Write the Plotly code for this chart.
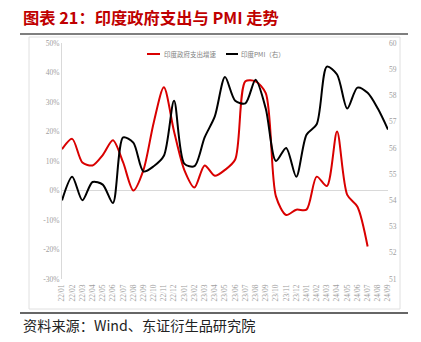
import plotly.graph_objects as go

months = ["22/01","22/02","22/03","22/04","22/05","22/06","22/07","22/08","22/09","22/10","22/11","22/12",
          "23/01","23/02","23/03","23/04","23/05","23/06","23/07","23/08","23/09","23/10","23/11","23/12",
          "24/01","24/02","24/03","24/04","24/05","24/06","24/07","24/08","24/09"]
gov_spend = [14, 17.5, 9.5, 8.5, 12, 17, 9.5, 0, 7, 23, 35, 20,
             7, 1, 8.5, 5, 7, 10.5, 37, 37, 33, -2, -8.3, -6.5,
             -6.5, 4.7, 1.5, 20, -1.5, -5.5, -19]
pmi = [54.0, 54.9, 54.0, 54.7, 54.6, 53.9, 56.4, 56.2, 55.1, 55.3, 55.7, 57.8,
       55.4, 55.3, 56.4, 57.2, 58.7, 57.8, 57.7, 58.6, 57.5, 55.5, 56.0, 54.9,
       56.5, 56.9, 59.1, 58.8, 57.5, 58.3, 58.1, 57.5, 56.7]
left_ticks = [-30, -20, -10, 0, 10, 20, 30, 40, 50]
right_ticks = [51, 52, 53, 54, 55, 56, 57, 58, 59, 60]

W, H = 421, 342
L, R, T, B = 62, 388, 43, 279
def px(x): return (x - L) / (R - L)
def py(y): return (B - y) / (B - T)

RED = "#D90000"
idx = list(range(len(months)))

fig = go.Figure()
fig.add_trace(go.Scatter(x=idx[:len(gov_spend)], y=gov_spend, mode="lines", name="印度政府支出增速",
                         line=dict(color=RED, width=2, shape="spline", smoothing=0.8), yaxis="y"))
fig.add_trace(go.Scatter(x=idx, y=pmi, mode="lines", name="印度PMI（右）",
                         line=dict(color="black", width=2, shape="spline", smoothing=0.8), yaxis="y2"))

tickfont = dict(family="Liberation Serif", size=7.5, color="#a0a0a0")
fig.update_layout(
    width=W, height=H, autosize=False,
    margin=dict(l=L, r=W - R, t=T, b=H - B),
    paper_bgcolor="white", plot_bgcolor="white",
    showlegend=False,
    xaxis=dict(range=[0, len(months) - 1], tickmode="array", tickvals=idx, ticktext=months,
               tickangle=-90, tickfont=tickfont, showgrid=False, zeroline=False, showline=False,
               ticks="", ticklabelstandoff=3),
    yaxis=dict(range=[-30, 50], tickvals=left_ticks, ticktext=[f"{v}%" for v in left_ticks],
               tickfont=tickfont, showgrid=False, zeroline=True, zerolinecolor="#d9d9d9",
               zerolinewidth=1, showline=True, linecolor="#d9d9d9", linewidth=1, ticks=""),
    yaxis2=dict(range=[51, 60], tickvals=right_ticks, overlaying="y", side="right",
                tickfont=tickfont, showgrid=False, zeroline=False, showline=False, ticks=""),
)

shapes = [
    dict(type="rect", xref="paper", yref="paper", x0=px(29), x1=px(400), y0=py(309), y1=py(37),
         line=dict(color="#e0e0e0", width=1)),
    dict(type="line", xref="paper", yref="paper", x0=px(20), x1=px(408), y0=py(34), y1=py(34),
         line=dict(color="#555555", width=1.5)),
    dict(type="line", xref="paper", yref="paper", x0=px(20), x1=px(408), y0=py(313), y1=py(313),
         line=dict(color="#333333", width=1.5)),
    dict(type="line", xref="paper", yref="paper", x0=px(147), x1=px(160), y0=py(54), y1=py(54),
         line=dict(color=RED, width=2)),
    dict(type="line", xref="paper", yref="paper", x0=px(226), x1=px(238), y0=py(54), y1=py(54),
         line=dict(color="black", width=2)),
]
fig.update_layout(shapes=shapes)

legfont = dict(family="Noto Sans CJK SC", size=6.5, color="#808080")
annotations = [
    dict(text="<b>图表 21：印度政府支出与 PMI 走势</b>", xref="paper", yref="paper", x=px(21), y=py(17),
         xanchor="left", yanchor="middle", showarrow=False,
         font=dict(family="Noto Sans CJK SC", size=16.3, color="#C00000")),
    dict(text="资料来源：Wind、东证衍生品研究院", xref="paper", yref="paper", x=px(21), y=py(325),
         xanchor="left", yanchor="middle", showarrow=False,
         font=dict(family="Noto Sans CJK SC", size=14.2, color="#222222")),
    dict(text="印度政府支出增速", xref="paper", yref="paper", x=px(162), y=py(54),
         xanchor="left", yanchor="middle", showarrow=False, font=legfont),
    dict(text="印度PMI（右）", xref="paper", yref="paper", x=px(239), y=py(54),
         xanchor="left", yanchor="middle", showarrow=False, font=legfont),
]
fig.update_layout(annotations=annotations)

fig.write_html("out.html")
